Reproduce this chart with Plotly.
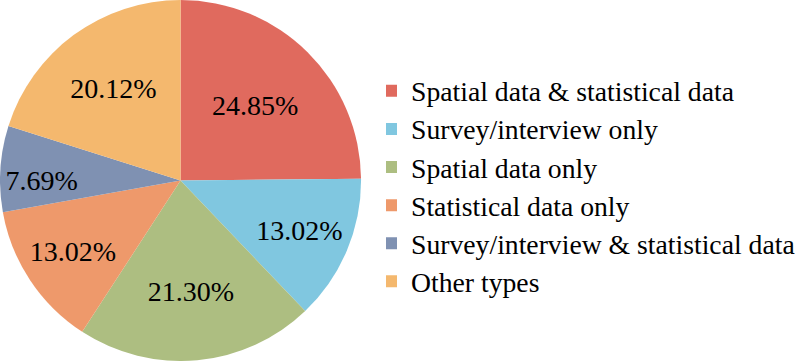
import plotly.graph_objects as go

labels = [
    "Spatial data & statistical data",
    "Survey/interview only",
    "Spatial data only",
    "Statistical data only",
    "Survey/interview & statistical data",
    "Other types",
]
values = [24.85, 13.02, 21.30, 13.02, 7.69, 20.12]
colors = ["#E06A5E", "#80C7E0", "#ADBE81", "#EE996B", "#7F91B2", "#F4B86E"]

legend_labels = ['<span style="font-size:27.7px">%s</span>' % l for l in labels]

fig = go.Figure(
    go.Pie(
        labels=legend_labels,
        values=values,
        sort=False,
        direction="clockwise",
        rotation=0,
        marker=dict(colors=colors, line=dict(width=0)),
        texttemplate="%{value:.2f}%",
        textposition="inside",
        insidetextorientation="horizontal",
        textfont=dict(family="Liberation Serif", size=28, color="black"),
        domain=dict(x=[0, 362 / 800], y=[0, 1]),
        hoverinfo="label+value",
    )
)

fig.update_layout(
    width=800,
    height=361,
    margin=dict(l=0, r=0, t=0, b=0),
    paper_bgcolor="white",
    plot_bgcolor="white",
    uniformtext=dict(minsize=28, mode="show"),
    legend=dict(
        x=0.48375,
        y=0.484,
        xanchor="left",
        yanchor="middle",
        indentation=-15,
        font=dict(family="Liberation Serif", size=27, color="black"),
        itemclick=False,
    ),
)

fig.write_html(
    "out.html",
    config={"displayModeBar": False},
    post_script="document.body.style.margin='0';",
)
